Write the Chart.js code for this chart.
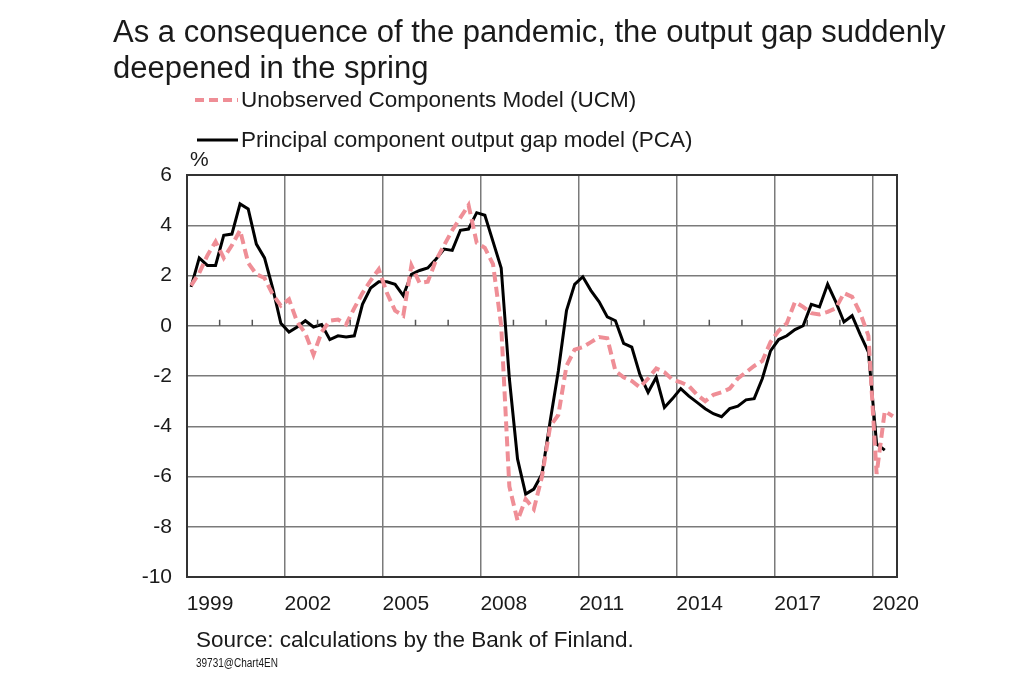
<!DOCTYPE html>
<html>
<head>
<meta charset="utf-8">
<title>Output gap</title>
<script src="https://cdn.jsdelivr.net/npm/chart.js"></script>
<style>
body { margin:0; background:#fff; font-family:"Liberation Sans", Arial, sans-serif; color:#1a1a1a; }
#wrap { position:relative; width:1035px; height:681px; overflow:hidden; }
#chart { position:absolute; left:0; top:0; }
.t { position:absolute; white-space:nowrap; }
#title { left:113px; top:14px; font-size:31px; line-height:36px; }
.leg { left:195px; font-size:22.5px; line-height:26px; display:flex; align-items:center; }
.leg svg { margin-right:3px; }
#unit { left:190px; top:147px; font-size:21px; line-height:24px; }
#source { left:196px; top:627px; font-size:22.5px; line-height:26px; }
#note { left:196px; top:656px; font-size:12.5px; line-height:14px; transform:scaleX(0.8); transform-origin:left center; }
</style>
</head>
<body>
<div id="wrap">
<canvas id="chart" width="1035" height="681"></canvas>
<div class="t" id="title">As a consequence of the pandemic, the output gap suddenly<br>deepened in the spring</div>
<div class="t leg" style="top:87px"><svg width="43" height="8"><line x1="0" y1="4" x2="43" y2="4" stroke="#ef8e96" stroke-width="4" stroke-dasharray="9 5"/></svg>Unobserved Components Model (UCM)</div>
<div class="t leg" style="top:127px"><svg width="43" height="8"><line x1="2" y1="4" x2="43" y2="4" stroke="#000" stroke-width="3"/></svg>Principal component output gap model (PCA)</div>
<div class="t" id="unit">%</div>
<div class="t" id="source">Source: calculations by the Bank of Finland.</div>
<div class="t" id="note">39731@Chart4EN</div>
</div>
<script>
// quarterly data, 1999Q1 .. 2020Q3
const firstYear = 1999;

const ucm = [
  1.6, 2.1, 2.8, 3.35,
  2.7, 3.2, 3.8, 2.5,
  2.05, 1.9, 1.25, 0.8,
  1.05, 0.15, -0.3, -1.15,
  -0.25, 0.2, 0.25, 0.05,
  0.7, 1.3, 1.8, 2.25,
  1.3, 0.6, 0.4, 2.4,
  1.7, 1.75, 2.6, 3.2,
  3.8, 4.3, 4.8, 3.3,
  3.1, 2.45, 0.0, -6.4,
  -7.75, -6.9, -7.3, -6.0,
  -4.0, -3.55, -1.6, -0.95,
  -0.85, -0.65, -0.45, -0.5,
  -1.8, -2.05, -2.2, -2.45,
  -2.1, -1.7, -1.85, -2.15,
  -2.25, -2.4, -2.75, -3.0,
  -2.75, -2.65, -2.5, -2.1,
  -1.85, -1.6, -1.4, -0.65,
  -0.2, 0.1, 0.95, 0.75,
  0.5, 0.45, 0.55, 0.7,
  1.3, 1.15, 0.5, -0.4,
  -5.9, -3.4, -3.6
];

const pca = [
  1.55, 2.7, 2.4, 2.4,
  3.6, 3.65, 4.85, 4.65,
  3.25, 2.7, 1.5, 0.1,
  -0.25, -0.05, 0.2, -0.05,
  0.05, -0.55, -0.4, -0.45,
  -0.4, 0.85, 1.5, 1.75,
  1.75, 1.65, 1.2, 2.05,
  2.2, 2.3, 2.65, 3.05,
  3.0, 3.8, 3.85, 4.5,
  4.4, 3.35, 2.3, -2.1,
  -5.3, -6.7, -6.5, -5.9,
  -3.8, -1.8, 0.6, 1.65,
  1.95, 1.4, 0.95, 0.35,
  0.2, -0.7, -0.85, -1.95,
  -2.65, -2.05, -3.25, -2.9,
  -2.5, -2.8, -3.05, -3.3,
  -3.5, -3.62, -3.3, -3.2,
  -2.95, -2.9, -2.1, -1.0,
  -0.55, -0.4, -0.15, 0.0,
  0.85, 0.75, 1.65, 0.95,
  0.15, 0.4, -0.35, -1.05,
  -4.7, -4.95
];

const yearLabels = ['1999','2002','2005','2008','2011','2014','2017','2020'];
const nQuarters = ucm.length;

function toPoints(arr) {
  return arr.map((v, i) => ({ x: i + 0.5, y: v }));
}

const frame = {
  id: 'frame',
  afterDraw(chart) {
    const ctx = chart.ctx, a = chart.chartArea;
    const xs = chart.scales.x, ys = chart.scales.y;
    const y0 = ys.getPixelForValue(0);
    ctx.save();
    // yearly tick marks on the zero line
    ctx.strokeStyle = '#555';
    ctx.lineWidth = 1.5;
    for (let q = 4; q < nQuarters; q += 4) {
      if (q % 12 === 0) continue;
      const px = xs.getPixelForValue(q);
      ctx.beginPath();
      ctx.moveTo(px, y0 - 6);
      ctx.lineTo(px, y0);
      ctx.stroke();
    }
    ctx.strokeStyle = '#333';
    ctx.lineWidth = 2;
    ctx.strokeRect(a.left, a.top, a.right - a.left, a.bottom - a.top);
    ctx.restore();
  }
};

new Chart(document.getElementById('chart'), {
  type: 'line',
  data: {
    datasets: [{
      label: 'Unobserved Components Model (UCM)',
      data: toPoints(ucm),
      borderColor: '#ef8e96',
      borderWidth: 4,
      borderDash: [10, 5],
      pointRadius: 0,
      tension: 0
    }, {
      label: 'Principal component output gap model (PCA)',
      data: toPoints(pca),
      borderColor: '#000',
      borderWidth: 3,
      pointRadius: 0,
      tension: 0
    }]
  },
  options: {
    responsive: false,
    animation: false,
    layout: { padding: { left: 0, top: 175, right: 138, bottom: 0 } },
    plugins: { legend: { display: false }, tooltip: { enabled: false } },
    scales: {
      x: {
        type: 'linear',
        min: 0,
        max: nQuarters,
        afterFit: s => { s.height = 104; },
        grid: { color: '#7a7a7a', lineWidth: 1.5, drawTicks: false },
        border: { display: false },
        ticks: {
          stepSize: 12,
          includeBounds: false,
          autoSkip: false,
          maxRotation: 0,
          padding: 15,
          labelOffset: 23,
          color: '#1a1a1a',
          font: { family: 'Liberation Sans', size: 21 },
          callback: v => yearLabels[v / 12] || ''
        }
      },
      y: {
        min: -10,
        max: 6,
        afterFit: s => { s.width = 187; },
        grid: { color: '#7a7a7a', lineWidth: 1.5, drawTicks: false },
        border: { display: false },
        ticks: {
          stepSize: 2,
          padding: 15,
          color: '#1a1a1a',
          font: { family: 'Liberation Sans', size: 21 }
        }
      }
    }
  },
  plugins: [frame]
});
</script>
</body>
</html>
